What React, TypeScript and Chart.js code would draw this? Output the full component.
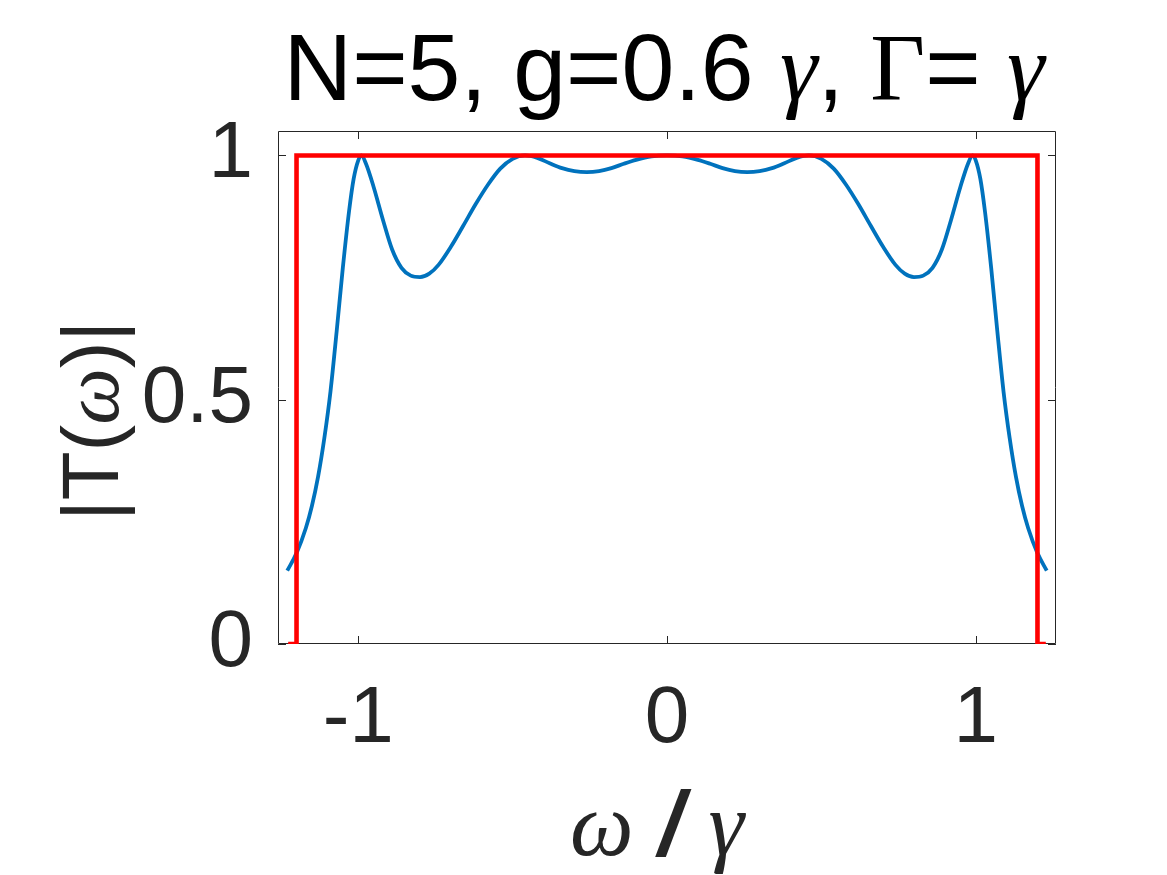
import React, { useEffect, useRef } from "react";
import { Chart, registerables } from "chart.js";

Chart.register(...registerables);

// Blue curve: |T(omega)| for N=5
const blueX = [
  -1.23, -1.2, -1.17, -1.15, -1.13, -1.11, -1.09, -1.07, -1.05, -1.03, -1.015, -1.0, -0.99, -0.975, -0.95,
  -0.92, -0.89, -0.86, -0.83, -0.8, -0.77, -0.74, -0.7, -0.66, -0.62, -0.58, -0.54, -0.5, -0.46,
  -0.42, -0.38, -0.34, -0.3, -0.26, -0.22, -0.18, -0.14, -0.1, -0.05, 0,
  0.05, 0.1, 0.14, 0.18, 0.22, 0.26, 0.3, 0.34, 0.38, 0.42, 0.46, 0.5, 0.54, 0.58, 0.62, 0.66,
  0.7, 0.74, 0.77, 0.8, 0.83, 0.86, 0.89, 0.92, 0.95, 0.975, 0.99, 1.0, 1.015, 1.03, 1.05, 1.07,
  1.09, 1.11, 1.13, 1.15, 1.17, 1.2, 1.23,
];
const blueY = [
  0.15, 0.186, 0.237, 0.283, 0.343, 0.421, 0.517, 0.64, 0.77, 0.885, 0.952, 0.99, 1.0, 0.983, 0.935,
  0.868, 0.807, 0.77, 0.754, 0.751, 0.758, 0.776, 0.813, 0.856, 0.9, 0.94, 0.973, 0.993, 1.0,
  0.995, 0.984, 0.974, 0.968, 0.966, 0.968, 0.974, 0.983, 0.991, 0.998, 1.0,
  0.998, 0.991, 0.983, 0.974, 0.968, 0.966, 0.968, 0.974, 0.984, 0.995, 1.0, 0.993, 0.973, 0.94,
  0.9, 0.856, 0.813, 0.776, 0.758, 0.751, 0.754, 0.77, 0.807, 0.868, 0.935, 0.983, 1.0, 0.99,
  0.952, 0.885, 0.77, 0.64, 0.517, 0.421, 0.343, 0.283, 0.237, 0.186, 0.15,
];

// Red curve: ideal band
const redX = [-1.227, -1.2, -1.2, 1.2, 1.2, 1.227];
const redY = [0, 0, 1, 1, 0, 0];

const xTicks = [-1, 0, 1];
const yTicks = [0, 0.5, 1];
const xRange = [-1.26, 1.26];
const yRange = [0, 1.05];

const titleParts = [
  { t: "N=5, g=0.6 ", serif: false },
  { t: "γ", serif: true },
  { t: ", ", serif: false },
  { t: "Γ", serif: true, upright: true },
  { t: "= ", serif: false },
  { t: "γ", serif: true },
];
const xLabelParts = [
  { t: "ω", serif: true },
  { t: " / ", serif: false, bold: true },
  { t: "γ", serif: true },
];
const yLabelParts = [
  { t: "|T(", serif: false },
  { t: "ω", serif: true },
  { t: ")|", serif: false },
];

const SANS = '"Liberation Sans", Arial, Helvetica, sans-serif';
const SERIF = '"Liberation Serif", "Times New Roman", serif';
const AX = "#262626";

type Part = { t: string; serif: boolean; upright?: boolean; bold?: boolean };

function partFont(p: Part, size: number) {
  if (p.serif) return `${p.upright ? "" : "italic "}${size}px ${SERIF}`;
  return `${p.bold ? "italic bold " : ""}${size}px ${SANS}`;
}

function drawRich(ctx: CanvasRenderingContext2D, parts: Part[], size: number, cx: number, baseY: number, color: string) {
  let total = 0;
  const widths = parts.map((p) => {
    ctx.font = partFont(p, size);
    const w = ctx.measureText(p.t).width;
    total += w;
    return w;
  });
  let x = cx - total / 2;
  ctx.fillStyle = color;
  ctx.textBaseline = "alphabetic";
  ctx.textAlign = "left";
  parts.forEach((p, i) => {
    ctx.font = partFont(p, size);
    ctx.fillText(p.t, x, baseY);
    x += widths[i];
  });
}

const decorPlugin = {
  id: "matlabDecor",
  beforeDatasetsDraw(chart: any) {
    const { ctx, chartArea } = chart;
    const { left, right, top, bottom } = chartArea;
    const xs = chart.scales.x;
    const ys = chart.scales.y;
    ctx.save();
    ctx.strokeStyle = AX;
    ctx.lineWidth = 1;
    ctx.beginPath();
    ctx.rect(left + 0.5, top + 0.5, right - left - 1, bottom - top - 1);
    ctx.stroke();
    const tl = 8;
    ctx.beginPath();
    xTicks.forEach((v) => {
      const px = Math.round(xs.getPixelForValue(v)) + 0.5;
      ctx.moveTo(px, bottom);
      ctx.lineTo(px, bottom - tl);
      ctx.moveTo(px, top);
      ctx.lineTo(px, top + tl);
    });
    yTicks.forEach((v) => {
      const py = Math.round(ys.getPixelForValue(v)) + 0.5;
      ctx.moveTo(left, py);
      ctx.lineTo(left + tl, py);
      ctx.moveTo(right, py);
      ctx.lineTo(right - tl, py);
    });
    ctx.stroke();
    ctx.restore();
  },
  afterDraw(chart: any) {
    const { ctx, chartArea } = chart;
    const cx = (chartArea.left + chartArea.right) / 2;
    ctx.save();
    drawRich(ctx, titleParts, 95, cx - 3, 100, "#000000");
    drawRich(ctx, xLabelParts, 90, cx - 10, 855, AX);
    ctx.translate(118, 421);
    ctx.rotate(-Math.PI / 2);
    drawRich(ctx, yLabelParts, 80, 0, 0, AX);
    ctx.restore();
  },
};

export default function App() {
  const ref = useRef<HTMLCanvasElement | null>(null);
  useEffect(() => {
    if (!ref.current) return;
    const chart = new Chart(ref.current, {
      type: "scatter",
      data: {
        datasets: [
          {
            label: "T",
            data: blueX.map((x, i) => ({ x, y: blueY[i] })),
            showLine: true,
            borderColor: "#0072BD",
            backgroundColor: "#0072BD",
            borderWidth: 3.8,
            pointRadius: 0,
            cubicInterpolationMode: "monotone",
            order: 2,
          },
          {
            label: "ideal",
            data: redX.map((x, i) => ({ x, y: redY[i] })),
            showLine: true,
            borderColor: "#FF0000",
            backgroundColor: "#FF0000",
            borderWidth: 4.6,
            pointRadius: 0,
            tension: 0,
            order: 1,
          },
        ],
      },
      options: {
        animation: false,
        responsive: false,
        devicePixelRatio: 1,
        layout: { padding: { left: 0, top: 131, right: 111, bottom: 0 } },
        plugins: {
          legend: { display: false },
          title: { display: false },
          tooltip: { enabled: false },
        },
        scales: {
          x: {
            type: "linear",
            min: xRange[0],
            max: xRange[1],
            afterBuildTicks: (s: any) => {
              s.ticks = xTicks.map((v) => ({ value: v }));
            },
            afterFit: (s: any) => {
              s.height = 231;
            },
            grid: { display: false, drawTicks: false },
            border: { display: false },
            ticks: {
              color: AX,
              font: { size: 80, family: SANS },
              padding: 28,
              maxRotation: 0,
              callback: (v: any) => String(v),
            },
          },
          y: {
            type: "linear",
            min: yRange[0],
            max: yRange[1],
            afterBuildTicks: (s: any) => {
              s.ticks = yTicks.map((v) => ({ value: v }));
            },
            afterFit: (s: any) => {
              s.width = 278;
            },
            grid: { display: false, drawTicks: false },
            border: { display: false },
            ticks: {
              color: AX,
              font: { size: 80, family: SANS },
              padding: 25,
              callback: (v: any) => String(v),
            },
          },
        },
      },
      plugins: [decorPlugin],
    } as any);
    return () => chart.destroy();
  }, []);
  return (
    <div style={{ position: "absolute", left: 0, top: 0, width: 1167, height: 875, background: "#fff" }}>
      <canvas ref={ref} width={1167} height={875} style={{ display: "block" }} />
    </div>
  );
}
